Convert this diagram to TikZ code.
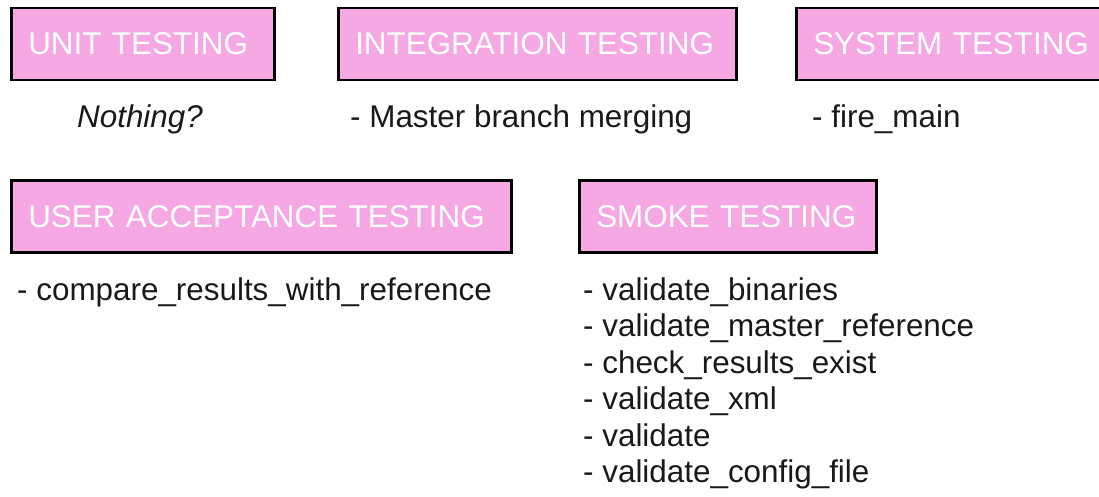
\documentclass[tikz,border=0pt]{standalone}
\usepackage{fontspec}
\setmainfont{Liberation Sans}
\usepackage{tikz}
\definecolor{boxpink}{RGB}{245,168,227}
\tikzset{
    testbox/.style={draw=black, line width=2.5pt, fill=boxpink, text=white,
            anchor=west, minimum height=72pt, inner ysep=0pt, inner xsep=17pt,
            align=left, text width=#1,
            font=\fontsize{31.4}{37.5}\selectfont},
    note/.style={anchor=base west, inner sep=0pt, text=black!90,
            font=\fontsize{31.4}{36.5}\selectfont}
}
\begin{document}
\begin{tikzpicture}[x=1pt, y=-1pt]
            \useasboundingbox (0, 0) rectangle (1099, 497);
            % first row of test kinds
            \node (unit) at (10, 44) [testbox=229pt] {UNIT TESTING};
            \node (integ) at (337, 44) [testbox=364pt] {INTEGRATION TESTING};
            \node (system) at (795, 44) [testbox=300pt] {SYSTEM TESTING};
            \node (nothing) at (140, 128) [note, anchor=base] {\itshape Nothing?};
            \node (merge) at (350, 128) [note] {- Master branch merging};
            \node (fire) at (812, 128) [note] {- fire\_main};
            % second row
            \node (accept) at (10, 216.5) [testbox=466pt] {USER ACCEPTANCE TESTING};
            \node (smoke) at (578, 216.5) [testbox=263pt] {SMOKE TESTING};
            \node (compare) at (17, 300) [note] {- compare\_results\_with\_reference};
            \node (binaries) at (583, 300) [note] {- validate\_binaries};
            \node (masterref) at (583, 336.5) [note] {- validate\_master\_reference};
            \node (exist) at (583, 373) [note] {- check\_results\_exist};
            \node (xml) at (583, 409.5) [note] {- validate\_xml};
            \node (valid) at (583, 446) [note] {- validate};
            \node (config) at (583, 482.5) [note] {- validate\_config\_file};
        \end{tikzpicture}
\end{document}
